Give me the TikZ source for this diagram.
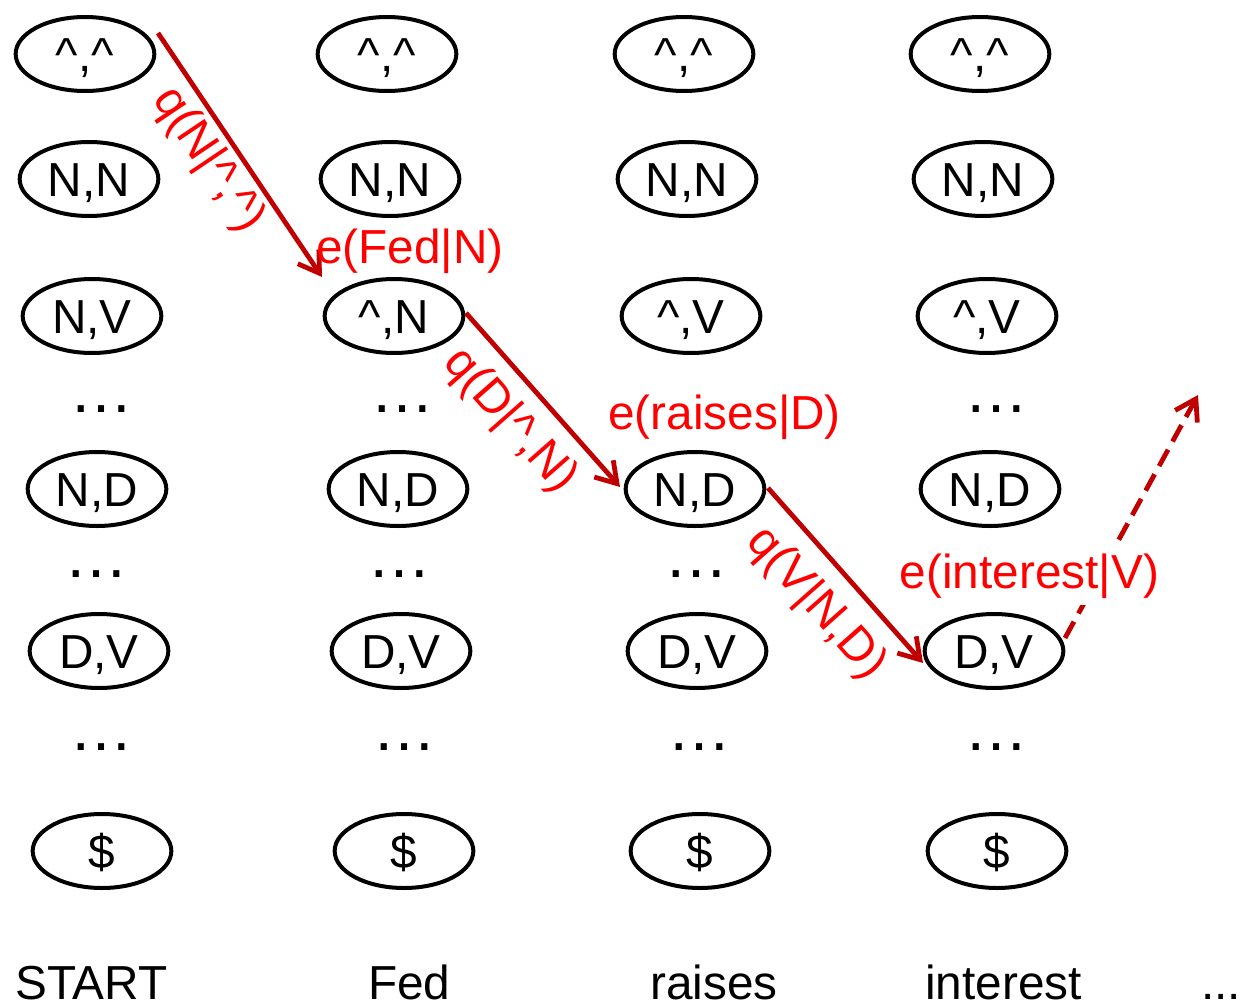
\documentclass[tikz,border=0pt]{standalone}
\usepackage{fontspec}
\setmainfont{Liberation Sans}
\usetikzlibrary{arrows.meta,shapes.geometric}
\definecolor{arrred}{RGB}{192,0,0}
\definecolor{labred}{RGB}{255,0,0}
\newcommand{\ct}{\textasciicircum}
\newcommand{\bigf}{\fontsize{35.8}{40}\selectfont}
\newcommand{\dotf}{\fontsize{48}{52}\selectfont}
\begin{document}
\begin{tikzpicture}[x=0.75pt,y=-0.75pt,
  st/.style={ellipse, draw, line width=3pt, minimum width=104pt, minimum height=55.5pt,
    inner sep=0pt, text height=25.6pt, text depth=0pt, font=\bigf},
  dotsn/.style={font=\dotf, anchor=base, inner sep=0pt},
  word/.style={font=\bigf, anchor=base west, inner sep=0pt},
  elab/.style={font=\bigf, text=labred, anchor=base west, inner sep=0pt},
  qlab/.style={font=\bigf, text=labred, inner sep=0pt},
  arr/.style={draw=arrred, line width=3.6pt, -{Straight Barb[length=15pt,width=19pt]}},
  darr/.style={arr, dash pattern=on 14pt off 7pt}]
\useasboundingbox (0,0) rectangle (1247,1003);

% column 1
\node[st] (a1) at (85,54) {\ct,\ct};
\node[st] (a2) at (89,179) {N,N};
\node[st] (a3) at (92,316) {N,V};
\node[st] (a4) at (97,489) {N,D};
\node[st] (a5) at (99,651) {D,V};
\node[st] (a6) at (102,851) {\$};
% column 2
\node[st] (b1) at (387,54) {\ct,\ct};
\node[st] (b2) at (390,179) {N,N};
\node[st] (b3) at (394,316) {\ct,N};
\node[st] (b4) at (398,489) {N,D};
\node[st] (b5) at (401,651) {D,V};
\node[st] (b6) at (404,851) {\$};
% column 3
\node[st] (c1) at (684,54) {\ct,\ct};
\node[st] (c2) at (687,179) {N,N};
\node[st] (c3) at (691,316) {\ct,V};
\node[st] (c4) at (695,489) {N,D};
\node[st] (c5) at (697,651) {D,V};
\node[st] (c6) at (700,851) {\$};
% column 4
\node[st] (d1) at (980,54) {\ct,\ct};
\node[st] (d2) at (983,179) {N,N};
\node[st] (d3) at (987,316) {\ct,V};
\node[st] (d4) at (990,489) {N,D};
\node[st] (d5) at (994,651) {D,V};
\node[st] (d6) at (997,851) {\$};

% dots
\node[dotsn] (p11) at (101,412) {…};
\node[dotsn] (p12) at (402,412) {…};
\node[dotsn] (p14) at (996,412) {…};
\node[dotsn] (p21) at (96,577) {…};
\node[dotsn] (p22) at (399,577) {…};
\node[dotsn] (p23) at (696,577) {…};
\node[dotsn] (p31) at (101,750) {…};
\node[dotsn] (p32) at (404,750) {…};
\node[dotsn] (p33) at (699,750) {…};
\node[dotsn] (p34) at (996,750) {…};

% words
\node[word] (w1) at (15,999) {START};
\node[word] (w2) at (368,999) {Fed};
\node[word] (w3) at (650,999) {raises};
\node[word] (w4) at (925,999) {interest};
\node[word] (w5) at (1201,999) {...};

% arrows
\draw[arr] ([shift={(73,-21)}]a1.center) -- ([shift={(-72,-39)}]b3.center);
\draw[arr] ([shift={(72,-3)}]b3.center) -- ([shift={(-75,-2)}]c4.center);
\draw[arr] ([shift={(73,-1)}]c4.center) -- ([shift={(-71,12)}]d5.center);
\coordinate (nxt) at (1198,395);
\draw[darr] ([shift={(71,-13)}]d5.center) -- (nxt);

% labels
\node[qlab, rotate=-56.1] (q1) at (208,160) {q(N|\ct,\ct)};
\node[qlab, rotate=-48.7] (q2) at (510,421) {q(D|\ct,N)};
\node[qlab, rotate=-48.5] (q3) at (816,604) {q(V|N,D)};
\node[elab] (e1) at (316,263) {e(Fed|N)};
\node[elab] (e2) at (608,429) {e(raises|D)};
\node[elab, fill=white, inner sep=5pt] (e3) at (893,588) {e(interest|V)};
\end{tikzpicture}
\end{document}
